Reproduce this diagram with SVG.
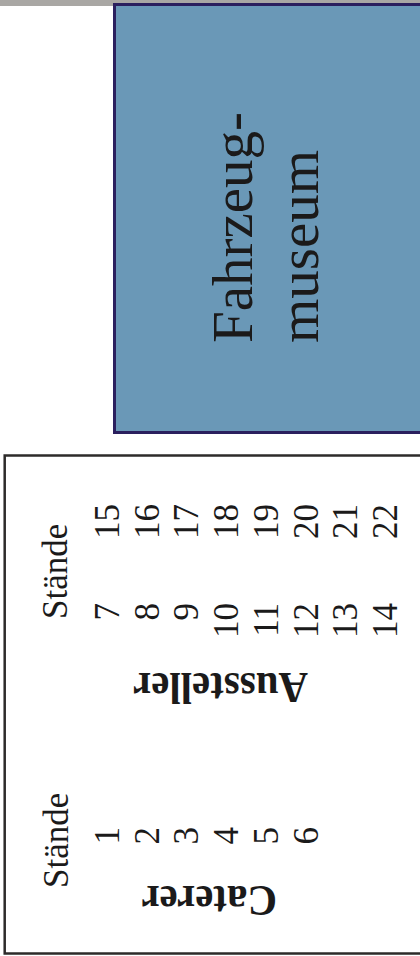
<svg xmlns="http://www.w3.org/2000/svg" width="420" height="956" viewBox="0 0 420 956">
<style>
.t{font-family:"Liberation Serif","Times New Roman",serif;fill:#1b1a1a}
.big{font-size:57px}
.num{font-size:35px}
.lbl{font-size:44px;font-weight:bold}
</style>
<rect x="0" y="0" width="420" height="6" fill="#a9a7a4"/>
<g id="museum">
<rect x="114.5" y="4.5" width="320" height="428" fill="#6a98b7" stroke="#2b1f5e" stroke-width="3"/>
<text class="t big" transform="translate(252,343) rotate(-90)">Fahrzeug-</text>
<text class="t big" transform="translate(318,343) rotate(-90)">museum</text>
</g>
<g id="hall">
<rect x="4.7" y="455.5" width="430" height="498" fill="none" stroke="#2d2b2a" stroke-width="2.5"/>
<text class="t num" transform="translate(67,619) rotate(-90)">Stände</text>
<g id="aussteller-stands" class="t num">
<text transform="translate(119,603) rotate(-90)" text-anchor="end">7</text>
<text transform="translate(158.7,603) rotate(-90)" text-anchor="end">8</text>
<text transform="translate(198.4,603) rotate(-90)" text-anchor="end">9</text>
<text transform="translate(238.1,603) rotate(-90)" text-anchor="end">10</text>
<text transform="translate(277.8,603) rotate(-90)" text-anchor="end">11</text>
<text transform="translate(317.5,603) rotate(-90)" text-anchor="end">12</text>
<text transform="translate(357.2,603) rotate(-90)" text-anchor="end">13</text>
<text transform="translate(396.9,603) rotate(-90)" text-anchor="end">14</text>
<text transform="translate(119,539) rotate(-90)">15</text>
<text transform="translate(158.7,539) rotate(-90)">16</text>
<text transform="translate(198.4,539) rotate(-90)">17</text>
<text transform="translate(238.1,539) rotate(-90)">18</text>
<text transform="translate(277.8,539) rotate(-90)">19</text>
<text transform="translate(317.5,539) rotate(-90)">20</text>
<text transform="translate(357.2,539) rotate(-90)">21</text>
<text transform="translate(396.9,539) rotate(-90)">22</text>
</g>
<text class="t lbl" transform="translate(308,673) rotate(180) scale(0.93,1)">Aussteller</text>
<text class="t num" transform="translate(68,888) rotate(-90)">Stände</text>
<g id="caterer-stands" class="t num">
<text transform="translate(119,827) rotate(-90)" text-anchor="end">1</text>
<text transform="translate(158.7,827) rotate(-90)" text-anchor="end">2</text>
<text transform="translate(198.4,827) rotate(-90)" text-anchor="end">3</text>
<text transform="translate(238.1,827) rotate(-90)" text-anchor="end">4</text>
<text transform="translate(277.8,827) rotate(-90)" text-anchor="end">5</text>
<text transform="translate(317.5,827) rotate(-90)" text-anchor="end">6</text>
</g>
<text class="t lbl" transform="translate(277,886) rotate(180) scale(0.93,1)">Caterer</text>
</g>
</svg>
